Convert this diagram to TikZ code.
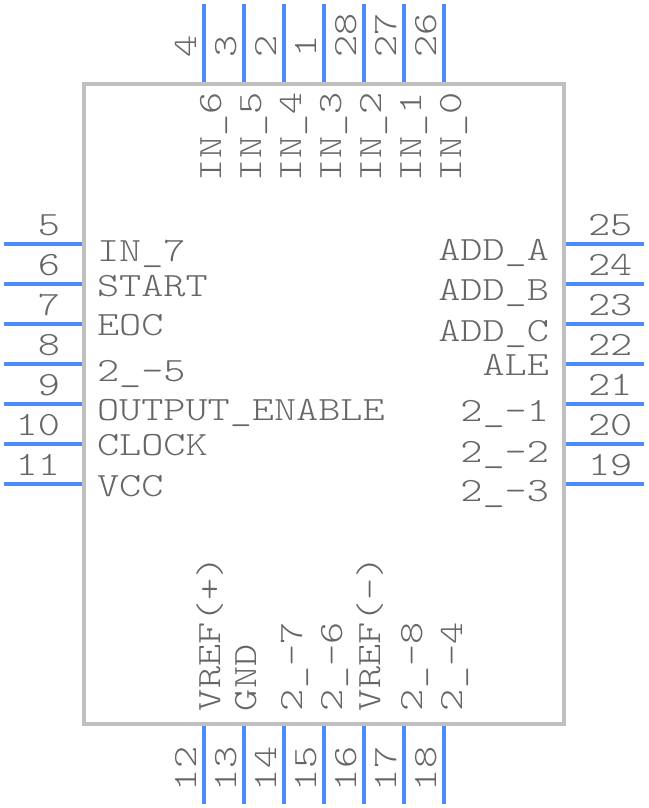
\documentclass[tikz,border=0pt]{standalone}
\usepackage{fontspec}
\setmonofont{Latin Modern Mono Light}
\definecolor{pinblue}{HTML}{4A8CFF}
\definecolor{boxgray}{HTML}{C0C0C0}
\definecolor{txtgray}{HTML}{666666}
\tikzset{
  pinline/.style={draw=pinblue,line width=4pt},
  bodybox/.style={draw=boxgray,line width=4pt},
  lbl/.style={inner sep=0pt,outer sep=0pt,text=txtgray,font=\ttfamily\fontsize{34}{34}\selectfont,transform shape,xscale=1.24},
  hl/.style={lbl,anchor=base west},
  hr/.style={lbl,anchor=base east},
  vl/.style={inner sep=0pt,outer sep=0pt,text=txtgray,font=\ttfamily\fontsize{34}{34}\selectfont,transform shape,rotate=90,xscale=1.24,anchor=base west}
}
\begin{document}
\begin{tikzpicture}[x=1pt,y=-1pt]
\useasboundingbox (0,0) rectangle (648,808);
\draw[bodybox] (84,84) rectangle (564,724);
% left and right pins
\foreach \i/\yy/\nl/\nr in {1/244/5/25,2/284/6/24,3/324/7/23,4/364/8/22,5/404/9/21,6/444/10/20,7/484/11/19}{
  \draw[pinline] (4,\yy) -- (82,\yy);
  \draw[pinline] (566,\yy) -- (644,\yy);
  \node[hr] (nl\i) at (60,\yy-9) {\nl};
  \node[hl] (nr\i) at (588,\yy-9) {\nr};
}
% top and bottom pins
\foreach \i/\xx/\nt/\nb in {1/204/4/12,2/244/3/13,3/284/2/14,4/324/1/15,5/364/28/16,6/404/27/17,7/444/26/18}{
  \draw[pinline] (\xx,4) -- (\xx,82);
  \draw[pinline] (\xx,726) -- (\xx,804);
  \node[vl] (nt\i) at (\xx-8,58) {\nt};
  \node[vl] (nb\i) at (\xx-8,791) {\nb};
}
% left labels
\node[hl] (l1) at (97,261) {IN\_7};
\node[hl] (l2) at (97,296) {START};
\node[hl] (l3) at (97,335) {EOC};
\node[hl] (l4) at (97,381) {2\_-5};
\node[hl] (l5) at (97,420) {OUTPUT\_ENABLE};
\node[hl] (l6) at (97,455) {CLOCK};
\node[hl] (l7) at (97,496) {VCC};
% right labels
\node[hr] (r1) at (549,260) {ADD\_A};
\node[hr] (r2) at (549,300) {ADD\_B};
\node[hr] (r3) at (549,341) {ADD\_C};
\node[hr] (r4) at (549,375) {ALE};
\node[hr] (r5) at (549,421) {2\_-1};
\node[hr] (r6) at (549,462) {2\_-2};
\node[hr] (r7) at (549,501) {2\_-3};
% top labels
\node[vl] (t1) at (221,181) {IN\_6};
\node[vl] (t2) at (261,181) {IN\_5};
\node[vl] (t3) at (301,181) {IN\_4};
\node[vl] (t4) at (341,181) {IN\_3};
\node[vl] (t5) at (381,181) {IN\_2};
\node[vl] (t6) at (421,181) {IN\_1};
\node[vl] (t7) at (461,181) {IN\_0};
% bottom labels
\node[vl] (b1) at (220,711) {VREF(+)};
\node[vl] (b2) at (256,711) {GND};
\node[vl] (b3) at (302,711) {2\_-7};
\node[vl] (b4) at (342,711) {2\_-6};
\node[vl] (b5) at (380,711) {VREF(-)};
\node[vl] (b6) at (422,711) {2\_-8};
\node[vl] (b7) at (462,711) {2\_-4};
\end{tikzpicture}
\end{document}
